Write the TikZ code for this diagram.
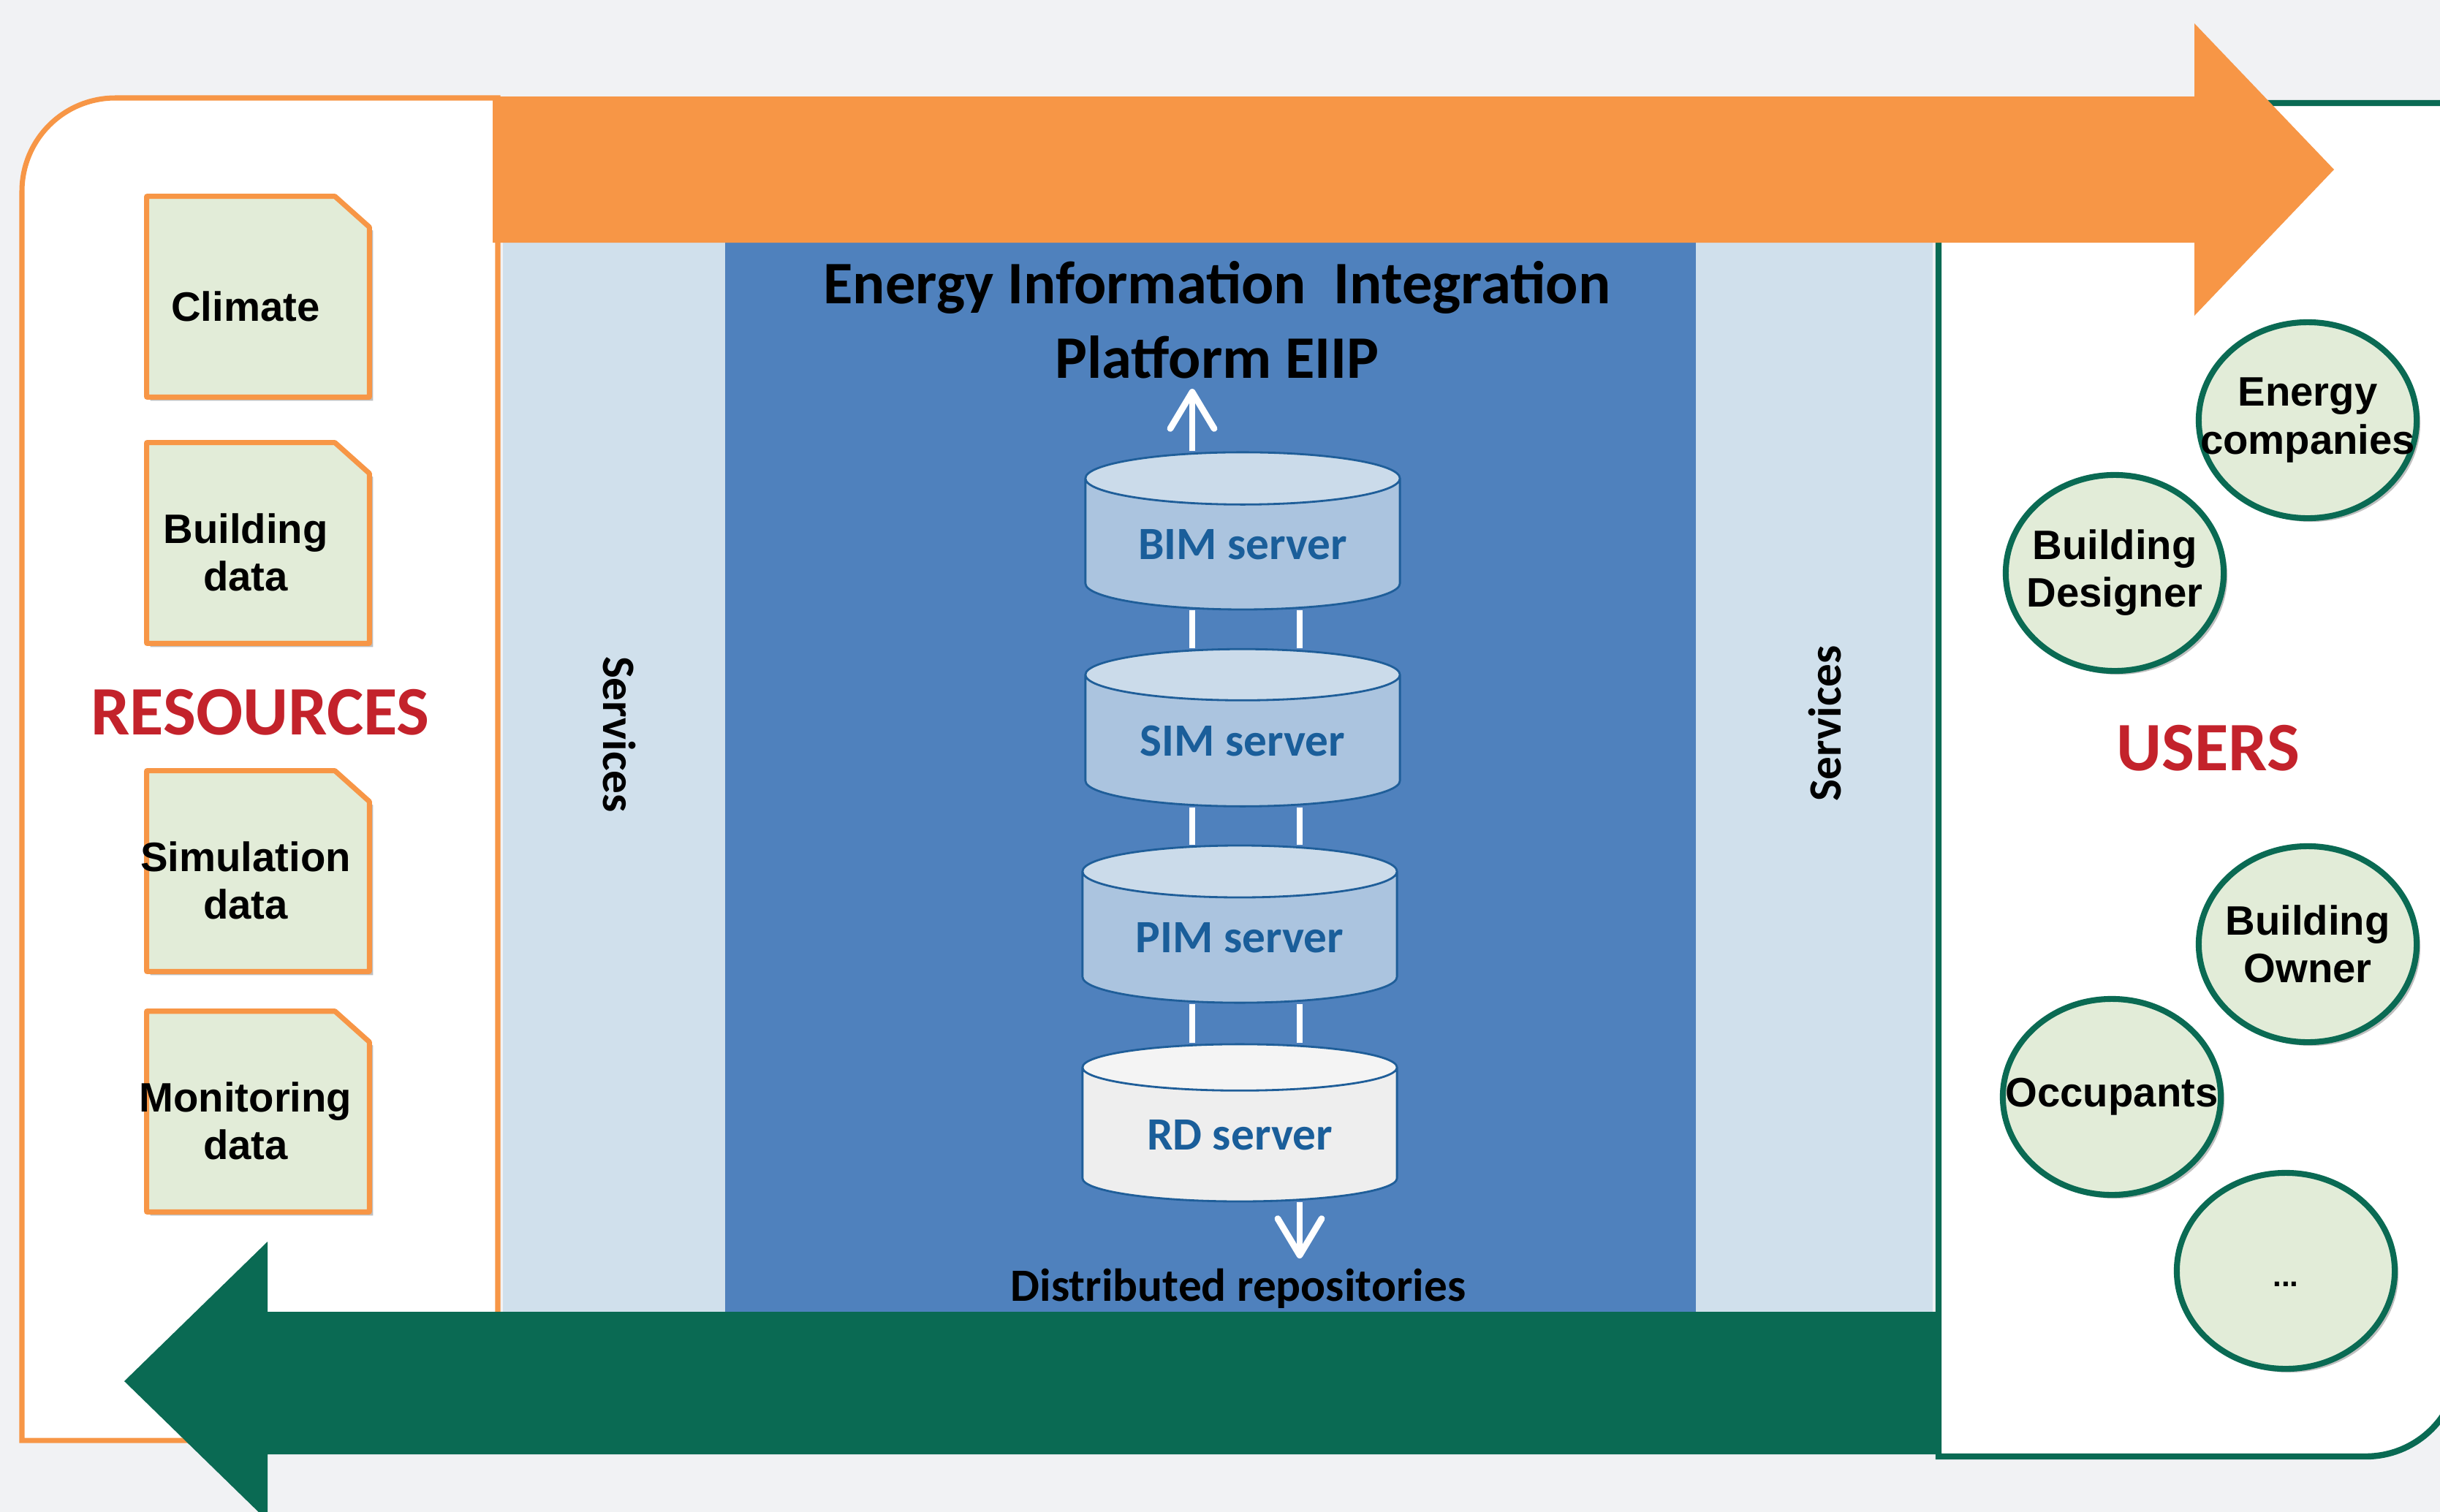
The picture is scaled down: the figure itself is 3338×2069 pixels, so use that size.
\documentclass[tikz,border=0pt]{standalone}
\usepackage{fontspec}
\setmainfont{Liberation Sans}
\newfontfamily\calibri{Carlito}
\usetikzlibrary{shapes.geometric,shadows,arrows.meta}

\definecolor{bggray}{HTML}{F1F2F4}
\definecolor{resorange}{HTML}{F79646}
\definecolor{usergreen}{HTML}{0A6A53}
\definecolor{eiipblue}{HTML}{4F81BD}
\definecolor{servlight}{HTML}{D0E0EC}
\definecolor{notefill}{HTML}{E2ECD8}
\definecolor{titlered}{HTML}{C3222B}
\definecolor{srvtext}{HTML}{1A5E9A}
\definecolor{srvbody}{HTML}{ABC4DF}
\definecolor{srvtop}{HTML}{CBDBEA}
\definecolor{srvline}{HTML}{1F5E99}
\definecolor{rdbody}{HTML}{EEEEEE}
\definecolor{rdtop}{HTML}{F4F4F4}

\tikzset{
  softshadow/.style={drop shadow={shadow xshift=0.5mm,shadow yshift=-0.5mm,fill=black,opacity=0.25}},
  resbox/.style={rectangle,minimum width=3.03cm,minimum height=2.73cm,inner sep=0pt},
  noteshape/.style={draw=resorange,line width=2pt,fill=notefill,line join=round,softshadow},
  notetext/.style={align=center,xshift=-0.17cm,yshift=-0.13cm,
    font=\fontsize{16}{18.5}\selectfont\bfseries},
  user/.style={ellipse,draw=usergreen,line width=2.3pt,fill=notefill,
    minimum width=2.98cm,minimum height=2.68cm,inner sep=0pt,softshadow},
  usertext/.style={align=center,font=\fontsize{16}{18.5}\selectfont\bfseries},
  server/.style={cylinder,shape border rotate=90,aspect=0.25,draw=srvline,line width=0.8pt,
    cylinder uses custom fill,cylinder body fill=srvbody,cylinder end fill=srvtop,
    minimum width=4.3cm,minimum height=2.15cm,inner sep=0pt,text=srvtext,
    font=\calibri\fontsize{18}{20}\selectfont\bfseries},
  link/.style={white,line width=2.5pt},
  grouplabel/.style={text=titlered,font=\calibri\fontsize{27}{30}\selectfont\bfseries},
  title/.style={align=center,font=\calibri\fontsize{23.5}{29}\selectfont\bfseries},
  svc/.style={font=\calibri\fontsize{18}{20}\selectfont\bfseries},
}

\begin{document}
\begin{tikzpicture}[x=0.01cm,y=-0.01cm]
  \useasboundingbox (0,0) rectangle (3338,2069);
  \clip (0,0) rectangle (3338,2069);
  \fill[bggray] (0,0) rectangle (3338,2069);

  % frames of the two sides
  \draw[resorange,line width=2pt,fill=white] (681,134) -- (158,134)
    .. controls (87,134) and (30,191) .. (30,262) -- (30,1971) -- (681,1971) -- cycle;
  \draw[usergreen,line width=2.4pt,fill=white] (2652,141) -- (3364,141) -- (3364,1865)
    .. controls (3364,1936) and (3307,1993) .. (3236,1993) -- (2652,1993) -- cycle;

  \fill[servlight] (688,332) rectangle (992,1795);
  \fill[eiipblue] (992,332) rectangle (2320,1795);
  \fill[servlight] (2320,332) rectangle (2644,1795);

  % big arrows
  \fill[resorange] (674,132) -- (3002,132) -- (3002,32) -- (3193,232) -- (3002,432)
    -- (3002,332) -- (674,332) -- cycle;
  \fill[usergreen] (2652,1795) -- (366,1795) -- (366,1699) -- (170,1890) -- (366,2081)
    -- (366,1990) -- (2652,1990) -- cycle;

  \node[svc,rotate=-90] (svcleft) at (847,1005) {Services};
  \node[svc,rotate=90] (svcright) at (2497,990) {Services};
  \node[title] (eiip) at (1665,438) {Energy Information\ \ Integration\\Platform EIIP};

  \node[server] (bim) at (1700,745) {BIM server};
  \node[server] (sim) at (1700,1014) {SIM server};
  \node[server] (pim) at (1696,1283) {PIM server};
  \node[server,cylinder body fill=rdbody,cylinder end fill=rdtop] (rd) at (1696,1553) {RD server};
  \node[svc] (repos) at (1694,1763) {Distributed repositories};

  \coordinate (lx) at (1631,0);
  \coordinate (rx) at (1778,0);
  \coordinate (toplink) at (1631,532);
  \coordinate (botlink) at (1778,1722);
  \begin{scope}[link]
    \foreach \a/\b in {bim/sim,sim/pim,pim/rd}{
      \draw (lx |- \a.south) -- (lx |- \b.north);
      \draw (rx |- \a.south) -- (rx |- \b.north);
    }
    \draw[-{Straight Barb[length=5mm,width=6mm,round]}] (lx |- bim.north) -- (toplink);
    \draw[-{Straight Barb[length=5mm,width=6mm,round]}] (rx |- rd.south) -- (botlink);
  \end{scope}

  \node[resbox] (climate) at (353,406) {};
  \node[resbox] (building) at (353,743) {};
  \node[resbox] (simulation) at (353,1192) {};
  \node[resbox] (monitoring) at (353,1521) {};
  \foreach \n/\t in {climate/Climate,building/Building\\data,
                     simulation/Simulation\\data,monitoring/Monitoring\\data}{
    \draw[noteshape] (\n.south west) -- (\n.north west) -- ([xshift=-0.47cm]\n.north east)
      -- ([yshift=-0.42cm]\n.north east) -- (\n.south east) -- cycle;
    \node[notetext] (\n-text) at (\n) {\t};
  }
  \node[grouplabel] (resources) at (356,975) {RESOURCES};

  \node[user,label={[usertext]center:{Energy\\companies}}] (energy) at (3157,575) {};
  \node[user,label={[usertext]center:{Building\\Designer}}] (designer) at (2893,784) {};
  \node[user,label={[usertext]center:{Building\\Owner}}] (owner) at (3157,1292) {};
  \node[user,label={[usertext]center:Occupants}] (occupants) at (2889,1501) {};
  \node[user,label={[usertext,font=\fontsize{12}{14}\selectfont\bfseries,yshift=-0.18cm]center:...}] (more) at (3127,1739) {};
  \node[grouplabel] (users) at (3021,1024) {USERS};
\end{tikzpicture}
\end{document}
